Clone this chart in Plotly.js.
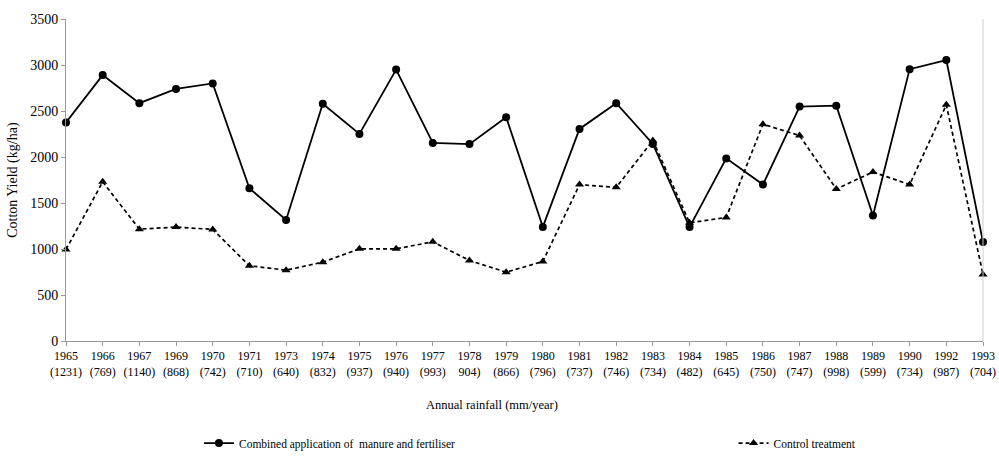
<!DOCTYPE html>
<html>
<head>
<meta charset="utf-8">
<script src="https://cdn.plot.ly/plotly-3.0.1.min.js"></script>
<style>html,body{margin:0;padding:0;background:#fff;}#chart{width:999px;height:463px;}</style>
</head>
<body>
<div id="chart"></div>
<script>
const years = ['1965','1966','1967','1969','1970','1971','1973','1974','1975','1976','1977','1978','1979','1980','1981','1982','1983','1984','1985','1986','1987','1988','1989','1990','1992','1993'];
const rainfall = ['(1231)','(769)','(1140)','(868)','(742)','(710)','(640)','(832)','(937)','(940)','(993)','904)','(866)','(796)','(737)','(746)','(734)','(482)','(645)','(750)','(747)','(998)','(599)','(734)','(987)','(704)'];
const combined = [2375,2890,2585,2740,2800,1660,1315,2578,2250,2950,2153,2140,2433,1240,2305,2585,2142,1238,1985,1700,2548,2558,1365,2955,3053,1075];
const control = [995,1730,1216,1238,1213,818,770,857,1002,1002,1078,875,748,864,1700,1670,2180,1285,1343,2356,2233,1652,1837,1700,2567,723];
const dividerYear = '1980';
const dividerTop = 3100;

const serif = 'Liberation Serif, Times New Roman, serif';
const tickText = years.map((y, i) => y + '<br>' + rainfall[i]);

const traces = [
  {
    x: years, y: combined, type: 'scatter', mode: 'lines+markers',
    name: 'Combined application of  manure and fertiliser',
    line: {color: '#000', width: 1.8},
    marker: {symbol: 'circle', size: 8, color: '#000'},
    cliponaxis: false, legend: 'legend'
  },
  {
    x: years, y: control, type: 'scatter', mode: 'lines+markers',
    name: 'Control treatment',
    line: {color: '#000', width: 1.7, dash: '4px,3px'},
    marker: {symbol: 'triangle-up', size: 8, color: '#000'},
    cliponaxis: false, legend: 'legend2'
  }
];

const layout = {
  width: 999, height: 463,
  margin: {l: 66, r: 16, t: 19, b: 122},
  paper_bgcolor: '#fff', plot_bgcolor: '#fff',
  font: {family: serif, size: 12, color: '#000'},
  showlegend: true,
  xaxis: {
    type: 'category', range: [0, years.length - 1], automargin: false,
    tickmode: 'array', tickvals: years, ticktext: tickText,
    ticks: 'outside', ticklen: 4, tickcolor: '#999', tickwidth: 1,
    showline: true, linecolor: '#999', linewidth: 1,
    showgrid: false, zeroline: false, tickangle: 0,
    tickfont: {family: serif, size: 12, color: '#000'}
  },
  yaxis: {
    range: [0, 3500], dtick: 500, tick0: 0, automargin: false,
    ticks: 'outside', ticklen: 4, tickcolor: '#999', tickwidth: 1,
    showline: true, linecolor: '#999', linewidth: 1,
    showgrid: false, zeroline: false,
    tickfont: {family: serif, size: 14, color: '#000'}
  },
  shapes: [
    {type: 'line', xref: 'x', yref: 'y', x0: dividerYear, x1: dividerYear, y0: 0, y1: dividerTop,
     line: {color: '#555', width: 1}},
    {type: 'line', xref: 'paper', yref: 'paper', x0: 1, x1: 1, y0: 0, y1: 1,
     line: {color: '#ccc', width: 1}}
  ],
  annotations: [
    {text: 'Annual rainfall (mm/year)', xref: 'paper', yref: 'paper', x: 0.465, y: -0.2, yanchor: 'middle', xanchor: 'center',
     showarrow: false, font: {family: serif, size: 12.5, color: '#000'}},
    {text: 'Cotton Yield (kg/ha)', xref: 'paper', yref: 'paper', x: -0.058, y: 0.5, xanchor: 'center', yanchor: 'middle',
     textangle: -90, showarrow: false, font: {family: serif, size: 14, color: '#000'}}
  ],
  legend: {x: 0.145, xanchor: 'left', yref: 'container', y: 0.043, yanchor: 'middle', orientation: 'h',
    font: {family: serif, size: 11.5, color: '#000'}, bgcolor: 'rgba(0,0,0,0)'},
  legend2: {x: 0.728, xanchor: 'left', yref: 'container', y: 0.043, yanchor: 'middle', orientation: 'h',
    font: {family: serif, size: 11.5, color: '#000'}, bgcolor: 'rgba(0,0,0,0)'}
};

Plotly.newPlot('chart', traces, layout, {displayModeBar: false, staticPlot: true});
</script>
</body>
</html>
